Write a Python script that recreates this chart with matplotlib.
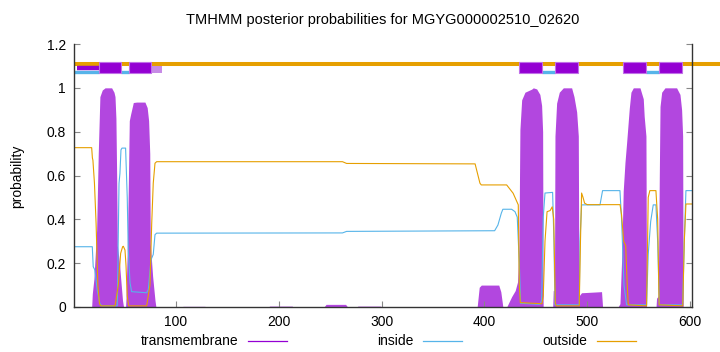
import matplotlib
matplotlib.use("Agg")
import matplotlib.pyplot as plt
from matplotlib.lines import Line2D
from matplotlib.patches import Rectangle

plt.rcParams['font.family'] = ['Liberation Sans', 'DejaVu Sans']

title = 'TMHMM posterior probabilities for MGYG000002510_02620'
seq_len = 602

# transmembrane posterior (residue, probability)
tm_x = [1, 18, 18.6, 20.2, 22.8, 24.4, 26, 28.3, 31, 37.4, 39.7, 40.7, 41.6, 42.3, 43, 45, 46.4, 48, 49,
        51, 51.4, 52.6, 53.8, 54.6, 55.9, 58.5, 61.8, 69.8, 72, 73.4, 74.5, 75, 77.3, 79.6, 80.5,
        105, 107, 128, 130, 190, 191, 213, 214, 244, 246, 265, 267, 276, 277, 299, 300,
        393, 395, 397, 414, 416, 418,
        421.7, 426.5, 430, 432.3, 433.6, 434.6, 436.3, 439.5, 446, 447.6, 450.9, 454, 455.7, 456.7, 457.2,
        466.5, 467, 468.2, 468.7, 470.3, 472.9, 476.8, 484.9, 487.2, 489.8, 491.4, 492, 494.5, 514, 515,
        530, 531.9, 533.5, 535.1, 536.8, 538.4, 541, 542.6, 544.9, 551.4, 554.6, 555.5, 557.2, 557.8,
        567, 567.5, 569.2, 570.2, 570.9, 572.5, 575.7, 587, 590.3, 591.9, 592.9, 593.4, 602]
tm_y = [0, 0, 0.06, 0.13, 0.35, 0.7, 0.96, 0.99, 1.0, 1.0, 0.98, 0.96, 0.86, 0.6, 0.28, 0.2, 0.12, 0.03, 0,
        0, 0.04, 0.26, 0.6, 0.85, 0.88, 0.933, 0.935, 0.935, 0.91, 0.85, 0.7, 0.29, 0.14, 0.03, 0,
        0, 0.003, 0.003, 0, 0, 0.004, 0.004, 0, 0, 0.012, 0.012, 0, 0, 0.004, 0.004, 0,
        0, 0.09, 0.1, 0.1, 0.07, 0,
        0, 0.047, 0.075, 0.115, 0.26, 0.81, 0.945, 0.98, 0.994, 1.0, 0.995, 0.97, 0.92, 0.8, 0,
        0, 0.075, 0.075, 0.78, 0.93, 0.98, 1.0, 1.0, 0.96, 0.89, 0.78, 0.05, 0.065, 0.07, 0,
        0, 0.015, 0.21, 0.53, 0.66, 0.75, 0.907, 0.98, 1.0, 1.0, 0.95, 0.87, 0.78, 0,
        0, 0.04, 0.05, 0.6, 0.915, 0.98, 1.0, 1.0, 0.97, 0.9, 0.78, 0, 0]

# inside posterior
in_x = [1, 18.6, 19.5, 21, 23.4, 26, 28, 42.9, 44.6, 45.5, 46.5, 47.5, 51, 52.6, 53.6, 55.3, 56.9,
        71.5, 73.1, 75.7, 77.9, 79.6, 81.2, 262, 266, 410, 413.2, 416.5, 418, 426.5, 429.8, 432,
        434, 435.3, 454, 455.7, 457.3, 459, 466.4, 467.7, 468.7, 492.3, 493, 494.6, 512.5, 515,
        531.9, 533.5, 535.8, 538.4, 557.8, 559.4, 561.8, 564.3, 566.9, 568.6, 570.2, 592.9, 594.5,
        596.1, 602]
in_y = [0.275, 0.275, 0.184, 0.17, 0.078, 0.015, 0.005, 0.005, 0.565, 0.61, 0.717, 0.725, 0.725,
        0.5, 0.26, 0.11, 0.07, 0.065, 0.08, 0.215, 0.24, 0.33, 0.337, 0.338, 0.345, 0.348, 0.374,
        0.428, 0.446, 0.446, 0.435, 0.41, 0.2, 0.017, 0.012, 0.03, 0.41, 0.52, 0.523, 0.3, 0.01,
        0.01, 0.3, 0.466, 0.466, 0.531, 0.531, 0.4, 0.1, 0.01, 0.01, 0.24, 0.39, 0.466, 0.466, 0.3,
        0.01, 0.01, 0.3, 0.531, 0.531]

# outside posterior
out_x = [1, 18, 18.7, 19.2, 20.7, 22.3, 24, 25.6, 27, 40.7, 43.9, 46.2, 48.1, 48.8, 50.4, 51.4, 52.6,
         54, 71.5, 74.7, 76.4, 77.9, 79.6, 81.2, 262, 266, 391, 395.7, 397, 421.7, 428, 433, 434,
         435, 456, 457.3, 459, 461, 464, 466, 467.5, 469, 470, 492.3, 493.5, 494.6, 496, 497.5, 500,
         532, 533.5, 535.5, 537.5, 539, 540, 557.8, 558.8, 559.4, 561, 566.9, 568.6, 570, 593,
         594.5, 596.1, 602]
out_y = [0.727, 0.727, 0.68, 0.67, 0.565, 0.38, 0.1, 0.015, 0.005, 0.005, 0.1, 0.245, 0.275, 0.277,
         0.26, 0.19, 0.05, 0.005, 0.005, 0.1, 0.38, 0.565, 0.656, 0.663, 0.663, 0.655, 0.653, 0.565,
         0.557, 0.557, 0.519, 0.466, 0.1, 0.02, 0.015, 0.05, 0.3, 0.435, 0.44, 0.457, 0.4, 0.02,
         0.005, 0.005, 0.3, 0.52, 0.5, 0.474, 0.467, 0.467, 0.42, 0.3, 0.28, 0.1, 0.01, 0.005, 0.3,
         0.5, 0.531, 0.531, 0.4, 0.01, 0.005, 0.3, 0.47, 0.47]

# predicted topology shown above the curves
tm_boxes = [(25, 47), (54, 76), (434, 456.3), (469, 491), (535, 557.5), (570, 592)]
inside_segs = [(1, 25), (47, 54), (456.3, 469), (557.5, 570)]
outside_segs = [(1, 629)]

purple = '#9400d3'
blue = '#56b4e9'
orange = '#e69f00'

fig = plt.figure(figsize=(7.2, 3.52), dpi=100)
ax = fig.add_axes([74.2 / 720, 1 - 307 / 352, 617.8 / 720, 263 / 352])

ax.fill_between(tm_x, 0, tm_y, color=purple, alpha=0.72, lw=0)
ax.plot(in_x, in_y, color=blue, lw=0.8)
ax.plot(out_x, out_y, color=orange, lw=0.8)

for a, b in outside_segs:
    ax.plot([a, b], [1.11, 1.11], color=orange, lw=2.9, solid_capstyle='butt', clip_on=False)
for a, b in inside_segs:
    ax.plot([a, b], [1.072, 1.072], color=blue, lw=2.4, solid_capstyle='butt', clip_on=False)
ax.plot([4, 25], [1.09, 1.09], color=purple, lw=3.2, solid_capstyle='butt')
ax.add_patch(Rectangle((76, 1.067), 10, 0.033, facecolor='#c78be6', edgecolor='none'))
for a, b in tm_boxes:
    ax.add_patch(Rectangle((a, 1.067), b - a, 0.05, facecolor=purple,
                           edgecolor='#c070e8', lw=0.8, zorder=3))

ax.set_xlim(1, seq_len)
ax.set_ylim(0, 1.2)
ax.set_xticks([100, 200, 300, 400, 500, 600])
ax.set_yticks([0, 0.2, 0.4, 0.6, 0.8, 1, 1.2])
ax.set_yticklabels(['0', '0.2', '0.4', '0.6', '0.8', '1', '1.2'])
ax.spines['top'].set_visible(False)
for s in ['left', 'bottom', 'right']:
    ax.spines[s].set_color('#333333')
    ax.spines[s].set_linewidth(1.0)
ax.tick_params(direction='in', length=4, width=0.8, color='#888888', labelsize=10,
               right=True, pad=6)

fig.text(383 / 720, 1 - 20 / 352, title, ha='center', va='center', fontsize=10.5)
fig.text(17 / 720, 0.5, 'probability', rotation=90, ha='center', va='center', fontsize=10)

legend_items = [('transmembrane', purple, 238, 248), ('inside', blue, 413, 422.6),
                ('outside', orange, 587, 597)]
ly = 1 - 341 / 352
for name, c, txt_end, line_start in legend_items:
    fig.text(txt_end / 720, ly, name, ha='right', va='center', fontsize=10)
    fig.add_artist(Line2D([line_start / 720, (line_start + 39) / 720], [ly, ly], color=c, lw=0.9))

fig.savefig('out.png', dpi=100)
